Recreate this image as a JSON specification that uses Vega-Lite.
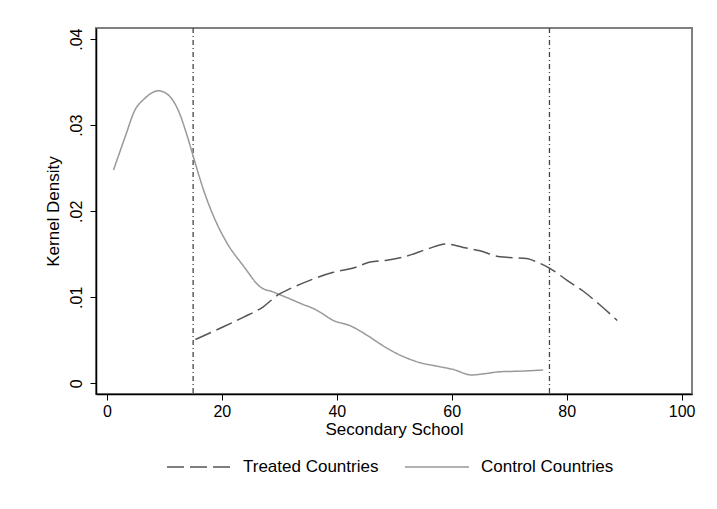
{
  "$schema": "https://vega.github.io/schema/vega-lite/v6.json",
  "autosize": {"type": "none"},
  "width": 596,
  "height": 366,
  "padding": {"left": 96, "top": 28, "right": 25, "bottom": 115},
  "background": "white",
  "config": {
    "font": "Liberation Sans",
    "view": {"stroke": "#808080", "strokeWidth": 2},
    "axis": {"domainColor": "black", "domainWidth": 1.5, "tickColor": "black", "tickWidth": 1, "tickSize": 6, "grid": false, "labelFontSize": 16, "titleFontSize": 17, "labelFont": "Liberation Sans", "titleFont": "Liberation Sans", "labelColor": "black", "titleColor": "black", "titleFontWeight": "normal"}
  },
  "datasets": {
    "curves": [
      {"s": "Control Countries", "x": 1.15, "y": 0.0248},
      {"s": "Control Countries", "x": 3.2, "y": 0.0287},
      {"s": "Control Countries", "x": 4.9, "y": 0.0318},
      {"s": "Control Countries", "x": 6.4, "y": 0.0330},
      {"s": "Control Countries", "x": 9.0, "y": 0.0340},
      {"s": "Control Countries", "x": 10.7, "y": 0.0335},
      {"s": "Control Countries", "x": 12.5, "y": 0.0316},
      {"s": "Control Countries", "x": 13.9, "y": 0.0289},
      {"s": "Control Countries", "x": 15.1, "y": 0.0262},
      {"s": "Control Countries", "x": 16.8, "y": 0.0225},
      {"s": "Control Countries", "x": 19.1, "y": 0.0186},
      {"s": "Control Countries", "x": 20.9, "y": 0.0163},
      {"s": "Control Countries", "x": 23.8, "y": 0.0136},
      {"s": "Control Countries", "x": 26.7, "y": 0.0112},
      {"s": "Control Countries", "x": 29.0, "y": 0.0106},
      {"s": "Control Countries", "x": 31.9, "y": 0.0098},
      {"s": "Control Countries", "x": 34.0, "y": 0.0092},
      {"s": "Control Countries", "x": 35.9, "y": 0.0087},
      {"s": "Control Countries", "x": 37.5, "y": 0.0081},
      {"s": "Control Countries", "x": 39.1, "y": 0.0074},
      {"s": "Control Countries", "x": 42.3, "y": 0.0067},
      {"s": "Control Countries", "x": 45.0, "y": 0.0057},
      {"s": "Control Countries", "x": 47.5, "y": 0.0046},
      {"s": "Control Countries", "x": 48.7, "y": 0.0041},
      {"s": "Control Countries", "x": 51.6, "y": 0.0031},
      {"s": "Control Countries", "x": 54.5, "y": 0.0024},
      {"s": "Control Countries", "x": 57.4, "y": 0.0020},
      {"s": "Control Countries", "x": 60.3, "y": 0.0016},
      {"s": "Control Countries", "x": 63.5, "y": 0.00097},
      {"s": "Control Countries", "x": 65.5, "y": 0.0011},
      {"s": "Control Countries", "x": 68.4, "y": 0.00135},
      {"s": "Control Countries", "x": 71.3, "y": 0.0014},
      {"s": "Control Countries", "x": 75.9, "y": 0.00155},
      {"s": "Treated Countries", "x": 15.4, "y": 0.0051},
      {"s": "Treated Countries", "x": 19.7, "y": 0.0064},
      {"s": "Treated Countries", "x": 23.8, "y": 0.0077},
      {"s": "Treated Countries", "x": 27.2, "y": 0.0089},
      {"s": "Treated Countries", "x": 29.8, "y": 0.0103},
      {"s": "Treated Countries", "x": 31.9, "y": 0.0110},
      {"s": "Treated Countries", "x": 35.4, "y": 0.0120},
      {"s": "Treated Countries", "x": 39.4, "y": 0.0129},
      {"s": "Treated Countries", "x": 42.9, "y": 0.0134},
      {"s": "Treated Countries", "x": 45.8, "y": 0.0141},
      {"s": "Treated Countries", "x": 48.7, "y": 0.0143},
      {"s": "Treated Countries", "x": 52.7, "y": 0.0149},
      {"s": "Treated Countries", "x": 55.7, "y": 0.0156},
      {"s": "Treated Countries", "x": 59.1, "y": 0.0162},
      {"s": "Treated Countries", "x": 62.0, "y": 0.0158},
      {"s": "Treated Countries", "x": 64.9, "y": 0.0154},
      {"s": "Treated Countries", "x": 68.4, "y": 0.0147},
      {"s": "Treated Countries", "x": 70.7, "y": 0.0146},
      {"s": "Treated Countries", "x": 73.0, "y": 0.0145},
      {"s": "Treated Countries", "x": 74.8, "y": 0.0141},
      {"s": "Treated Countries", "x": 77.0, "y": 0.0134},
      {"s": "Treated Countries", "x": 80.0, "y": 0.0120},
      {"s": "Treated Countries", "x": 82.9, "y": 0.0107},
      {"s": "Treated Countries", "x": 85.8, "y": 0.0091},
      {"s": "Treated Countries", "x": 88.8, "y": 0.0073}
    ],
    "cutoffs": [{"x": 15}, {"x": 77}]
  },
  "layer": [
    {
      "data": {"name": "cutoffs"},
      "mark": {"type": "rule", "color": "#444444", "strokeWidth": 1.3, "strokeDash": [5, 3, 1, 3]},
      "encoding": {
        "x": {"field": "x", "type": "quantitative", "scale": {"domain": [-1.9, 101.8], "nice": false, "zero": false}}
      }
    },
    {
      "data": {"name": "curves"},
      "mark": {"type": "line", "strokeWidth": 1.5, "interpolate": "monotone"},
      "encoding": {
        "x": {"field": "x", "type": "quantitative", "title": "Secondary School",
              "scale": {"domain": [-1.9, 101.8], "nice": false, "zero": false},
              "axis": {"values": [0, 20, 40, 60, 80, 100], "labelPadding": 3, "titlePadding": 2, "labelFlush": false}},
        "y": {"field": "y", "type": "quantitative", "title": "Kernel Density",
              "scale": {"domain": [-0.00124, 0.0413], "nice": false, "zero": false},
              "axis": {"values": [0, 0.01, 0.02, 0.03, 0.04], "labelExpr": "datum.value == 0 ? '0' : replace(format(datum.value, '.2f'), '0.', '.')", "labelAngle": -90, "labelAlign": "center", "labelBaseline": "bottom", "labelPadding": 6, "titlePadding": 6, "labelFlush": false}},
        "color": {"field": "s", "type": "nominal", "title": null,
                  "scale": {"domain": ["Treated Countries", "Control Countries"], "range": ["#555555", "#999999"]},
                  "legend": {"orient": "none", "legendX": 70, "legendY": 406, "direction": "horizontal", "symbolType": "stroke", "symbolSize": 4096, "symbolStrokeWidth": 1.5, "labelFontSize": 17, "labelFont": "Liberation Sans", "labelColor": "black", "columnPadding": 23, "labelOffset": 11}},
        "strokeDash": {"field": "s", "type": "nominal", "title": null,
                  "scale": {"domain": ["Treated Countries", "Control Countries"], "range": [[17, 6], [1, 0]]}}
      }
    }
  ]
}
